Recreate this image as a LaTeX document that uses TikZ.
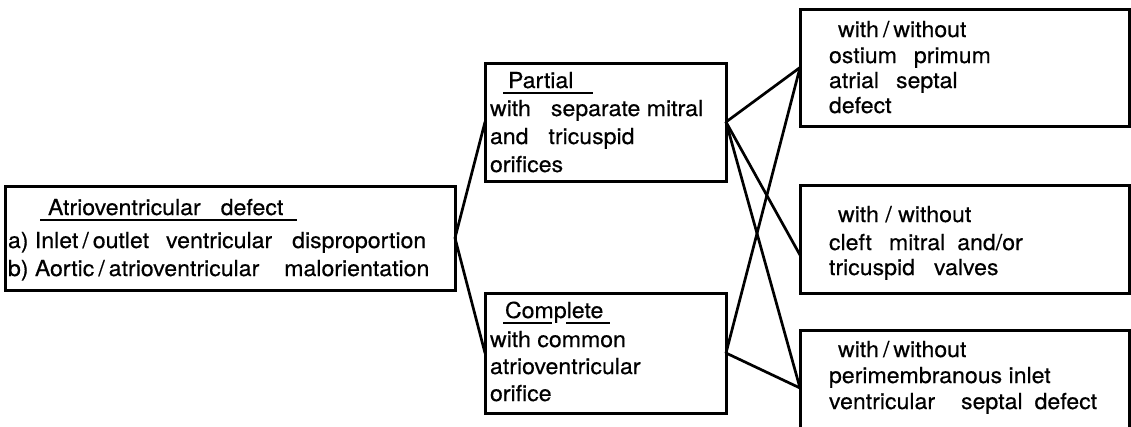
\documentclass[tikz,border=0pt]{standalone}
\usepackage{fontspec}
\newfontfamily\lbfamily[FakeStretch=1.05,FakeBold=0.4]{TeX Gyre Heros}
\newcommand\wg{\hspace{17pt}}
\newcommand\tg{\hspace{4pt}}
\begin{document}
\begin{tikzpicture}[x=1pt,y=-1pt]
\tikzset{
  box/.style={draw, line width=3pt, inner sep=0pt, outer sep=0pt},
  lbl/.style={anchor=base west, inner sep=0pt, outer sep=0pt, font=\lbfamily\fontsize{22}{26}\selectfont},
  conn/.style={line width=2.7pt, line cap=round},
  uline/.style={line width=2.2pt}
}
\useasboundingbox (0,0) rectangle (1131,426);
\fill[white] (0,0) rectangle (1131,426);
\clip (0,0) rectangle (1131,426);
% boxes
\node[box, minimum width=450pt, minimum height=104pt] (main) at (230,238) {};
\node[box, minimum width=241pt, minimum height=118pt] (partial) at (605.5,122) {};
\node[box, minimum width=241pt, minimum height=120pt] (complete) at (605.5,353) {};
\node[box, minimum width=329pt, minimum height=117pt] (b1) at (964.5,67.5) {};
\node[box, minimum width=329pt, minimum height=108pt] (b2) at (964.5,239) {};
\node[box, minimum width=329pt, minimum height=116pt] (b3) at (964.5,388) {};
% main text
\node[lbl] (mt) at (48,215) {Atrioventricular\hspace{20pt}defect};
\draw[uline] (40,220) -- (297,220);
\node[lbl] (ma) at (8,248) {a) Inlet\tg/\tg outlet\wg ventricular\hspace{20pt}disproportion};
\node[lbl] (mb) at (8,276) {b) Aortic\tg/\tg atrioventricular\hspace{25pt}malorientation};
% partial text
\node[lbl] (pt) at (508,88) {Partial};
\draw[uline] (503,93) -- (593,93);
\node[lbl] (p1) at (490,116) {with\hspace{20pt}separate mitral};
\node[lbl] (p2) at (490,144) {and\hspace{20pt}tricuspid};
\node[lbl] (p3) at (490,172) {orifices};
% complete text
\node[lbl] (ct) at (505,318) {Complete};
\draw[uline] (503,323) -- (552,323);
\draw[uline] (566,323) -- (610,323);
\node[lbl] (c1) at (490,347) {with common};
\node[lbl] (c2) at (490,374) {atrioventricular};
\node[lbl] (c3) at (490,401) {orifice};
% right boxes text
\node[lbl] (r11) at (838,37) {with\tg/\tg without};
\node[lbl] (r12) at (829,63) {ostium\wg primum};
\node[lbl] (r13) at (829,88) {atrial\wg septal};
\node[lbl] (r14) at (829,113) {defect};
\node[lbl] (r21) at (838,222) {with / without};
\node[lbl] (r22) at (829,250) {cleft\wg mitral\hspace{12pt}and/or};
\node[lbl] (r23) at (829,275) {tricuspid\hspace{19pt}valves};
\node[lbl] (r31) at (838,357) {with\tg/\tg without};
\node[lbl] (r32) at (829,383) {perimembranous inlet};
\node[lbl] (r33) at (829,409) {ventricular\hspace{26pt}septal\hspace{12pt}defect};
% connectors
\draw[conn] (main.east) -- (partial.west);
\draw[conn] (main.east) -- (complete.west);
\draw[conn] (partial.east) -- (b1.west);
\draw[conn] (partial.east) -- ([yshift=-16pt]b2.west);
\draw[conn] (partial.east) -- (b3.west);
\draw[conn] (complete.east) -- (b1.west);
\draw[conn] (complete.east) -- (b3.west);
\end{tikzpicture}
\end{document}
